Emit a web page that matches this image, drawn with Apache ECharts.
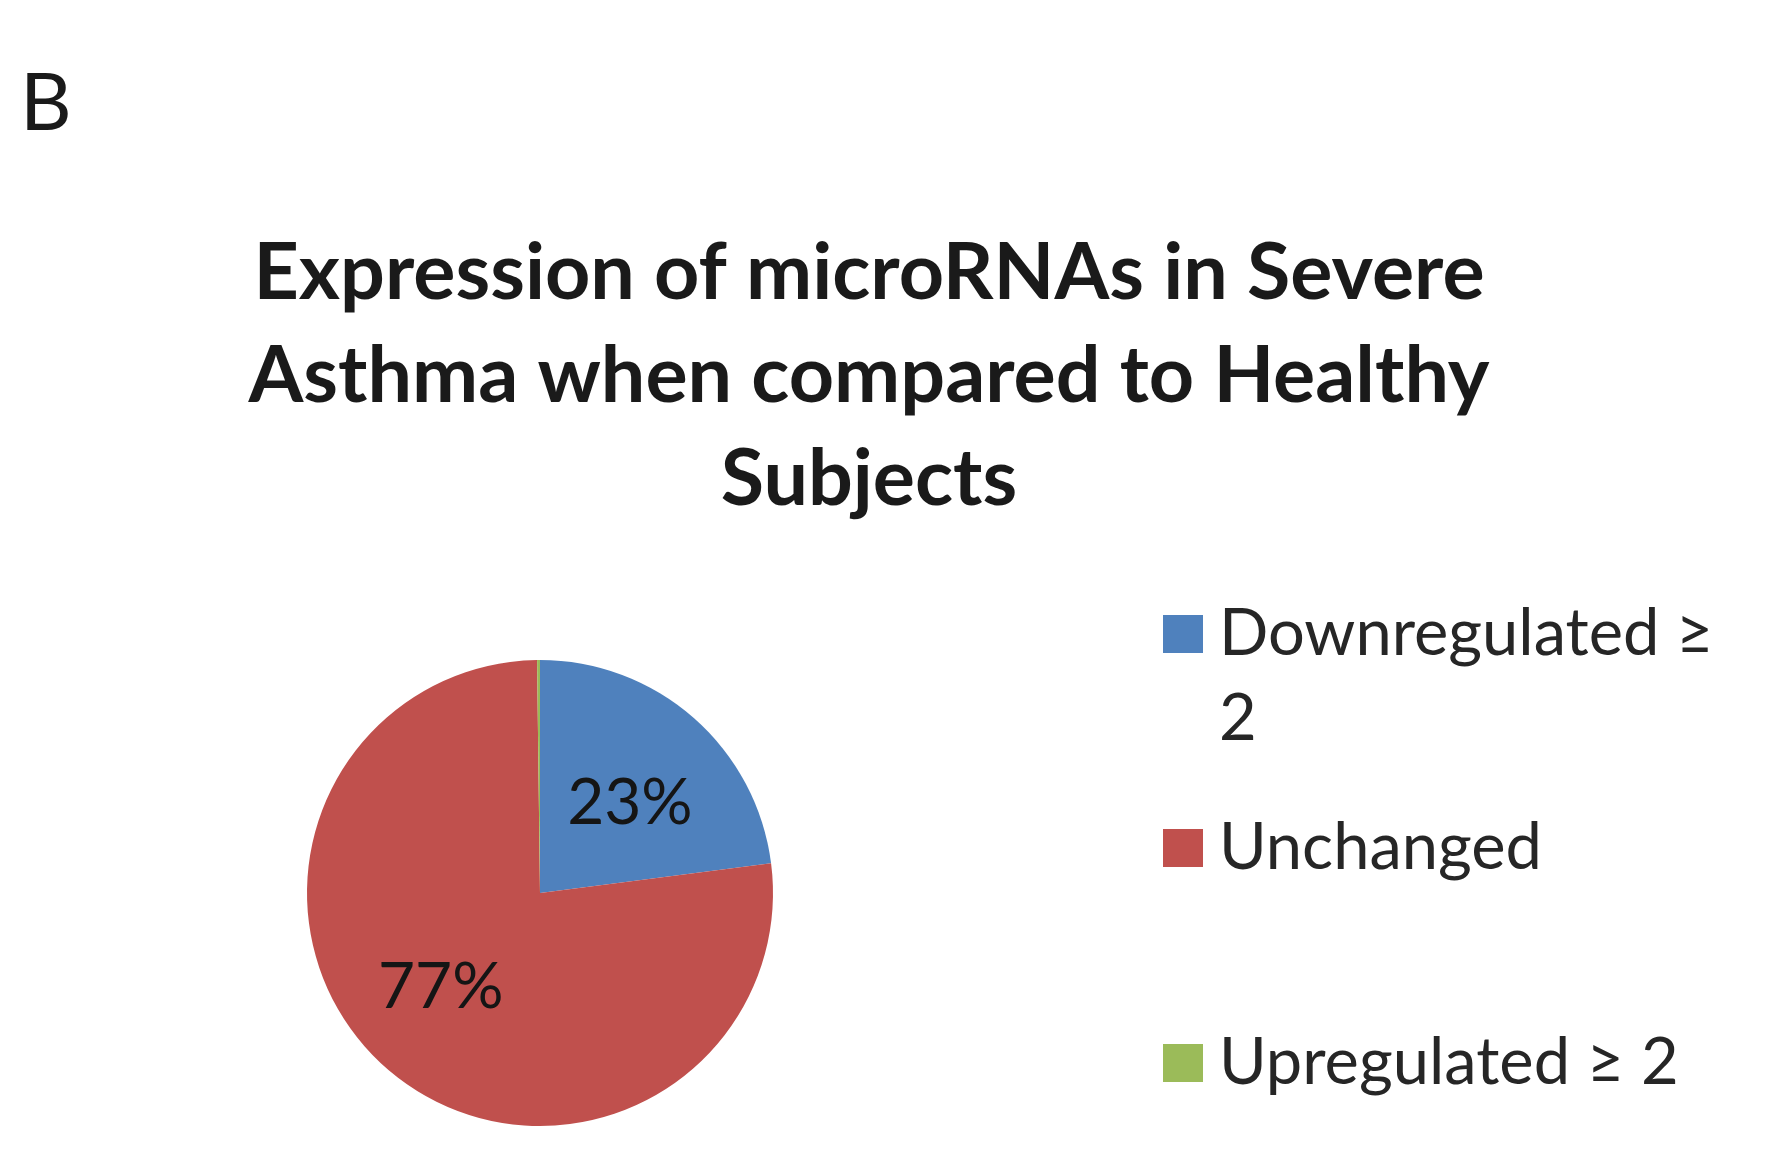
<!DOCTYPE html>
<html>
<head>
<meta charset="utf-8">
<script src="https://cdn.jsdelivr.net/npm/echarts@6/dist/echarts.min.js"></script>
<style>
html,body{margin:0;padding:0;background:#fff;}
#chart{width:1768px;height:1162px;}
</style>
</head>
<body>
<div id="chart"></div>
<script>
// ---- data ----
const panelLetter = 'B';
const chartTitle = 'Expression of microRNAs in Severe\nAsthma when compared to Healthy\nSubjects';
const categories = ['Downregulated ≥ 2', 'Unchanged', 'Upregulated ≥ 2'];
const percentValues = [23, 77, 0.2];
const sliceColors = ['#4F81BD', '#C0504D', '#9BBB59'];

const FONT = 'Lato, "Open Sans", sans-serif';
const chart = echarts.init(document.getElementById('chart'), null, {renderer: 'canvas'});

const pieData = categories.map((name, i) => ({
  name: name,
  value: percentValues[i],
  itemStyle: {color: sliceColors[i]},
  label: {show: i !== 2}
}));

// small label nudges (style only) to match the original label placement
const labelNudge = [[11, 0], [-21, 4], [0, 0]];

function legendFor(idx, top, extra) {
  return Object.assign({
    data: [categories[idx]],
    orient: 'vertical',
    left: 1163,
    top: top,
    padding: 0,
    icon: 'rect',
    itemWidth: 40,
    itemHeight: 38,
    selectedMode: false,
    textStyle: {
      fontFamily: FONT,
      fontSize: 65,
      lineHeight: 85,
      color: '#262626',
      padding: [0, 0, 0, 11]
    }
  }, extra || {});
}

const option = {
  backgroundColor: '#ffffff',
  animation: false,
  title: [
    {
      text: panelLetter,
      left: 20,
      top: 64,
      padding: 0,
      textStyle: {fontFamily: FONT, fontSize: 80, fontWeight: 'normal', color: '#1a1a1a'}
    },
    {
      text: chartTitle,
      left: 869,
      textAlign: 'center',
      top: 222,
      padding: 0,
      textStyle: {fontFamily: FONT, fontSize: 79, fontWeight: 'bold', lineHeight: 103, color: '#1a1a1a'}
    }
  ],
  legend: [
    legendFor(0, 506.5, {
      formatter: function (n) { return '\n' + n.replace(' ≥ 2', ' ≥\n2'); }
    }),
    legendFor(1, 805.5),
    legendFor(2, 1020.5)
  ],
  series: [{
    type: 'pie',
    center: [540, 893],
    radius: 233,
    startAngle: 90,
    clockwise: true,
    percentPrecision: 0,
    avoidLabelOverlap: false,
    itemStyle: {borderWidth: 0},
    emphasis: {disabled: true},
    label: {
      show: true,
      position: 'inside',
      formatter: '{d}%',
      fontFamily: FONT,
      fontSize: 64,
      color: '#151515'
    },
    labelLine: {show: false},
    labelLayout: function (params) {
      const n = labelNudge[params.dataIndex] || [0, 0];
      return {dx: n[0], dy: n[1]};
    },
    data: pieData
  }]
};
chart.setOption(option);
</script>
</body>
</html>
